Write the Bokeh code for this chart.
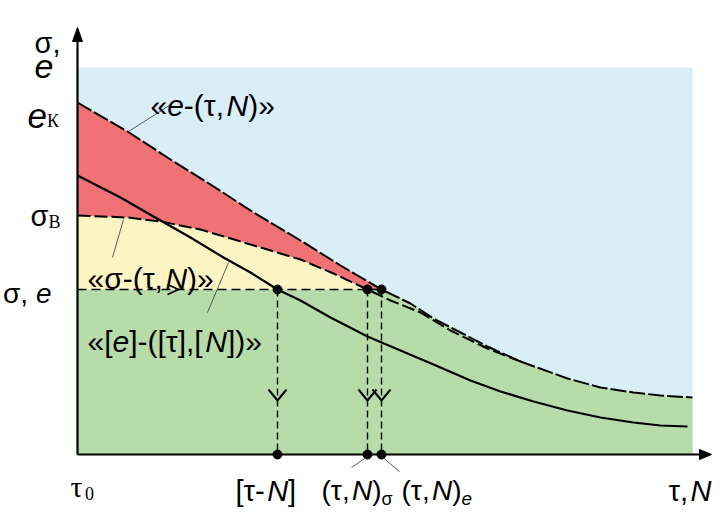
from bokeh.plotting import figure
from bokeh.models import Range1d, ColumnDataSource
from bokeh.core.properties import value
from bokeh.embed import file_html
from bokeh.resources import INLINE

# ---- schematic data (τ,N on x; σ, e on y) ----
tau_e = [0, 50, 93, 133, 176, 223, 263, 304, 333, 356, 383, 410, 443, 490, 523, 556, 583, 615]
e_lim = [352, 323, 295, 270, 242, 214, 189, 165, 151, 136, 122, 108, 93, 76, 67, 62, 59, 57]

tau_s = [0, 50, 83, 123, 173, 223, 256, 290, 313, 343, 373, 410, 443]
s_lim = [239, 237, 233, 225, 210, 195, 181, 165, 154, 142, 124, 106, 93]

tau_c = [0, 43, 76, 113, 146, 173, 200, 223, 253, 290, 323, 356, 393, 423, 456, 490, 523, 556, 583, 610]
c_val = [279, 257, 238, 217, 197, 182, 165, 154, 137, 118, 104, 90, 74, 63, 53, 44, 37, 32, 29, 28]

level = 165                 # σ, e working level
t_crit = [200, 290, 304]    # [τ-N], (τ,N)σ, (τ,N)e
domain_right = 615
domain_top = 387

BLUE = "#daeef8"
RED = "#f17274"
YELLOW = "#fcf5c3"
GREEN = "#b7dca9"
SANS = "Liberation Sans"
SERIF = "Liberation Serif"


def X(px):
    return px - 77


def Y(py):
    return 454 - py


p = figure(width=712, height=512, x_range=Range1d(-77, 635), y_range=Range1d(-58, 454),
           output_backend="svg", toolbar_location=None, x_axis_type=None, y_axis_type=None,
           min_border=0, min_border_left=0, min_border_right=0, min_border_top=0, min_border_bottom=0)
p.grid.visible = False
p.outline_line_color = None
p.background_fill_color = "white"

# ---- regions ----
p.quad(left=[0], right=[domain_right], bottom=[0], top=[domain_top], fill_color=BLUE, line_color=None)

i_e = tau_e.index(t_crit[2])
i_s = tau_s.index(t_crit[1])

gx = [0, t_crit[2]] + tau_e[i_e + 1:] + [domain_right, 0]
gy = [level, level] + e_lim[i_e + 1:] + [0, 0]
p.patch(gx, gy, fill_color=GREEN, line_color=None)

yx = tau_s[:i_s + 1] + [0]
yy = s_lim[:i_s + 1] + [level]
p.patch(yx, yy, fill_color=YELLOW, line_color=None)

rx = tau_e[:i_e + 1] + tau_s[:i_s + 1][::-1]
ry = e_lim[:i_e + 1] + s_lim[:i_s + 1][::-1]
p.patch(rx, ry, fill_color=RED, line_color=None)

# ---- guide lines ----
p.line([0, t_crit[2]], [level, level], line_color="black", line_width=1.4, line_dash="9 5")
p.segment(x0=t_crit, y0=[level] * 3, x1=t_crit, y1=[0] * 3, line_color="black",
          line_width=1.4, line_dash="7 4")

# ---- curves ----
p.line(tau_s, s_lim, line_color="black", line_width=2, line_dash="13 4")
p.line(tau_e, e_lim, line_color="black", line_width=2, line_dash="16 3")
p.line(tau_c, c_val, line_color="black", line_width=2.2)

# ---- axes ----
p.line([0, 0], [0, Y(40)], line_color="black", line_width=2.2)
p.line([0, X(702)], [0, 0], line_color="black", line_width=2.2)
p.patch([-5, 0, 5], [Y(41), Y(27), Y(41)], fill_color="black", line_color="black")
p.patch([X(699), X(711), X(699)], [5, 0, -5], fill_color="black", line_color="black")

# ---- arrowheads ----
p.multi_line(xs=[[t - 9, t, t + 9] for t in t_crit], ys=[[65, 54, 65]] * 3,
             line_color="black", line_width=2)
p.multi_line(xs=[[X(167), X(178), X(167)]], ys=[[level + 5, level, level - 5]],
             line_color="black", line_width=1.8)

# ---- points ----
p.scatter(t_crit + t_crit, [level] * 3 + [0] * 3, size=9, fill_color="black", line_color="black")

# ---- leader lines ----
lead = [((128, 131), (172, 103)), ((123, 219), (112, 257)), ((228, 262), (207, 312)),
        ((367, 456), (351, 467)), ((381, 456), (399, 471))]
p.segment(x0=[X(a[0]) for a, b in lead], y0=[Y(a[1]) for a, b in lead],
          x1=[X(b[0]) for a, b in lead], y1=[Y(b[1]) for a, b in lead],
          line_color="#333333", line_width=0.8)

# ---- texts ----
W = {' ': 0.278, ',': 0.278, '-': 0.333, '(': 0.333, ')': 0.333, '[': 0.278, ']': 0.278,
     '«': 0.556, '»': 0.556, 'e': 0.556, 'N': 0.722, 'σ': 0.617, 'τ': 0.48, '0': 0.5,
     'К': 0.72, 'В': 0.667}


def seg_width(t, size):
    return sum(W.get(ch, 0.55) for ch in t) * size


txt = dict(x=[], y=[], text=[], size=[], style=[], font=[])


def rich(px, py, segs, align="left"):
    total = sum(seg_width(s[0], s[1]) for s in segs)
    x = px - total if align == "right" else px
    for t, size, style, font, dy in segs:
        txt["x"].append(X(x))
        txt["y"].append(Y(py + dy))
        txt["text"].append(t)
        txt["size"].append(f"{size}px")
        txt["style"].append(style)
        txt["font"].append(font)
        x += seg_width(t, size)


n, it = "normal", "italic"
rich(34, 42, [("σ,", 29, n, SANS, 0)])
rich(34, 66, [("e", 34, it, SANS, 0)])
rich(27, 115, [("e", 35, it, SANS, 0), ("К", 18, n, SERIF, 5)])
rich(30, 215, [("σ", 29, n, SANS, 0), ("В", 18, n, SERIF, 6)])
rich(51, 293, [("σ, ", 28, n, SANS, 0), ("e", 28, it, SANS, 0)], align="right")

rich(150, 105, [("«", 30, n, SANS, 0), ("e", 30, it, SANS, 0), ("-(τ,", 30, n, SANS, 0),
                ("N", 30, it, SANS, 0), (")»", 30, n, SANS, 0)])
rich(87, 278, [("«σ-(τ,", 30, n, SANS, 0), ("N", 30, it, SANS, 0), (")»", 30, n, SANS, 0)])
rich(87, 341, [("«[", 30, n, SANS, 0), ("e", 30, it, SANS, 0), ("]-([τ],[", 30, n, SANS, 0),
               ("N", 30, it, SANS, 0), ("])»", 30, n, SANS, 0)])

rich(70, 486, [("τ", 30, n, SERIF, 0), ("0", 18, n, SERIF, 7)])
rich(235, 490, [("[τ-", 29, n, SANS, 0), ("N", 29, it, SANS, 0), ("]", 29, n, SANS, 0)])
rich(321, 490, [("(τ,", 28, n, SANS, 0), ("N", 28, it, SANS, 0), (")", 28, n, SANS, 0),
                ("σ", 18, n, SANS, 8)])
rich(401, 490, [("(τ,", 28, n, SANS, 0), ("N", 28, it, SANS, 0), (")", 28, n, SANS, 0),
                ("e", 19, it, SANS, 8)])
rich(711, 490, [("τ,", 29, n, SANS, 0), ("N", 29, it, SANS, 0)], align="right")

p.text(x="x", y="y", text="text", source=ColumnDataSource(txt), text_font="font",
       text_font_size="size", text_font_style="style", text_baseline="alphabetic",
       text_align="left", text_color="black")

open("out.html", "w").write(file_html(p, INLINE))
